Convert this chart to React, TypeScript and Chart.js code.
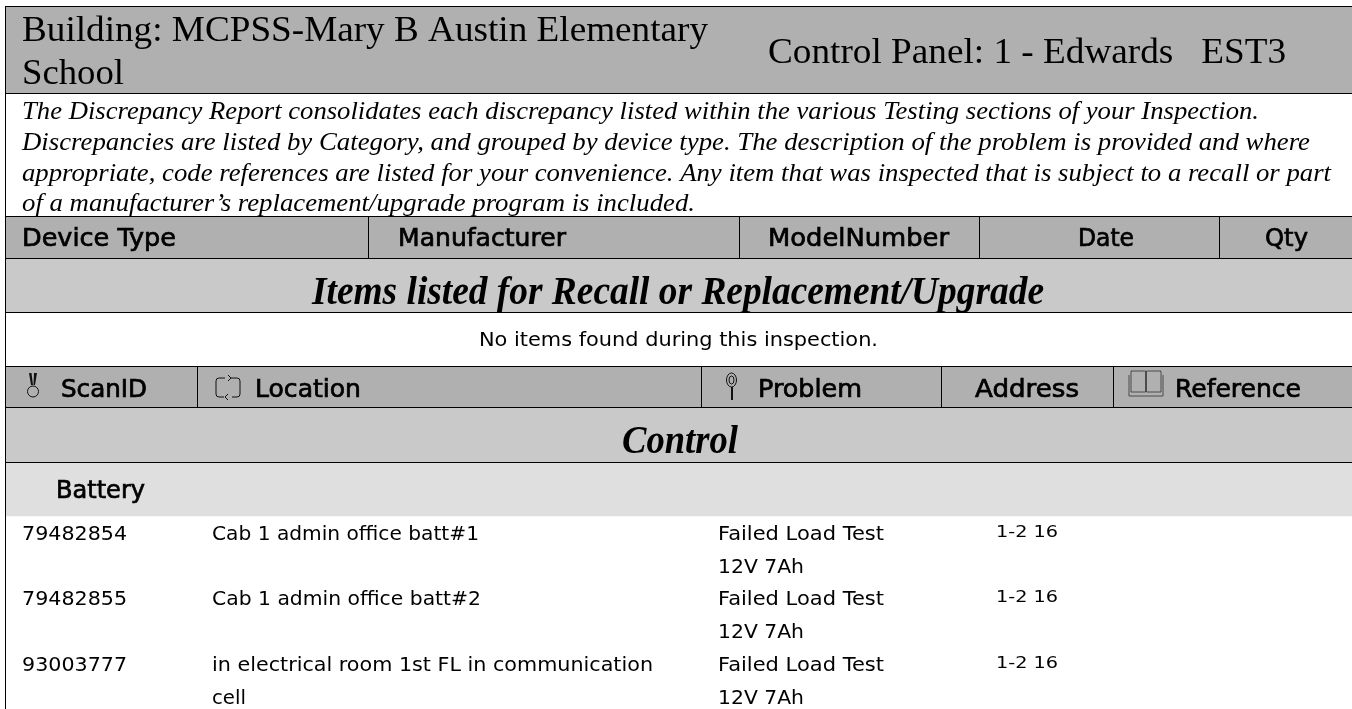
import React, { useEffect, useRef } from "react";
import { Chart, registerables } from "chart.js";

Chart.register(...registerables);

const W = 1352;
const H = 709;

// band structure of the sheet
const bandNames = ["margin", "title", "intro", "deviceHead", "recallBand", "noItems", "scanHead", "controlBand", "batteryBand", "rows"];
const bandHeights = [6, 87, 123, 42, 54, 54, 41, 55, 54, 193];
const bandColors = ["#ffffff", "#b0b0b0", "#ffffff", "#b0b0b0", "#c9c9c9", "#ffffff", "#b0b0b0", "#c9c9c9", "#dfdfdf", "#ffffff"];
const ruledEdges = [0, 1, 2, 3, 4, 5, 6, 7];

// texts
const titleLines = ["Building: MCPSS-Mary B Austin Elementary", "School"];
const panelText = "Control Panel: 1 - Edwards   EST3";
const introLines = [
  "The Discrepancy Report consolidates each discrepancy listed within the various Testing sections of your Inspection.",
  "Discrepancies are listed by Category, and grouped by device type. The description of the problem is provided and where",
  "appropriate, code references are listed for your convenience. Any item that was inspected that is subject to a recall or part",
  "of a manufacturer\u2019s replacement/upgrade program is included.",
];
const deviceColumns = ["Device Type", "Manufacturer", "ModelNumber", "Date", "Qty"];
const recallHeading = "Items listed for Recall or Replacement/Upgrade";
const noItemsText = "No items found during this inspection.";
const scanColumns = ["ScanID", "Location", "Problem", "Address", "Reference"];
const controlHeading = "Control";
const groupHeading = "Battery";
const scanIds = ["79482854", "79482855", "93003777"];
const locations = [["Cab 1 admin office batt#1"], ["Cab 1 admin office batt#2"], ["in electrical room 1st FL in communication", "cell"]];
const problems = [["Failed Load Test", "12V 7Ah"], ["Failed Load Test", "12V 7Ah"], ["Failed Load Test", "12V 7Ah"]];
const addresses = ["1-2 16", "1-2 16", "1-2 16"];

// layout, in sheet units (kept apart from the content)
const SERIF = '"Liberation Serif"';
const SANS = '"DejaVu Sans"';
const deviceDividers = [368, 739, 979, 1219];
const scanDividers = [197, 701, 941, 1113];
const deviceX: [number, number][] = [[22, 176], [398, 566], [768, 949], [1078, 1134], [1265, 1308]];
const scanX: [number, number][] = [[61, 147], [255, 361], [758, 862], [975, 1079], [1175, 1301]];
const rowBase = [540, 605, 671];
const lineStep = 32.5;

function App() {
  const ref = useRef<HTMLCanvasElement>(null);
  useEffect(() => {
    document.body.style.margin = "0";
    document.body.style.background = "#fff";
    const edges: number[] = [];
    bandHeights.reduce((s, h) => {
      edges.push(s + h);
      return s + h;
    }, 0);

    const sheet = {
      id: "sheet",
      afterDatasetsDraw(chart: any) {
        const { ctx } = chart;
        const px = (v: number) => chart.scales.xs.getPixelForValue(v);
        const py = (v: number) => chart.scales.y.getPixelForValue(v);
        const text = (s: string, font: string, x0: number, x1: number, base: number, weight = 0) => {
          ctx.font = font;
          ctx.textBaseline = "alphabetic";
          ctx.textAlign = "left";
          ctx.fillStyle = "#000";
          const m = ctx.measureText(s).width;
          const target = px(x1) - px(x0);
          ctx.save();
          ctx.translate(px(x0), py(base));
          ctx.scale(target / m, 1);
          ctx.fillText(s, 0, 0);
          if (weight) {
            ctx.strokeStyle = "#000";
            ctx.lineWidth = weight;
            ctx.strokeText(s, 0, 0);
          }
          ctx.restore();
        };
        const hLine = (y: number) => {
          ctx.fillStyle = "#000";
          ctx.fillRect(px(5), Math.round(py(y)), W, 1);
        };
        const vLine = (x: number, y0: number, y1: number) => {
          ctx.fillStyle = "#000";
          ctx.fillRect(Math.round(px(x)), py(y0), 1, py(y1) - py(y0));
        };
        ruledEdges.forEach((i) => hLine(edges[i]));
        vLine(5, edges[0], H);
        deviceDividers.forEach((x) => vLine(x, edges[2], edges[3]));
        scanDividers.forEach((x) => vLine(x, edges[5], edges[6]));

        text(titleLines[0], `35px ${SERIF}`, 22, 708, 41);
        text(titleLines[1], `35px ${SERIF}`, 22, 124, 84);
        text(panelText, `35px ${SERIF}`, 768, 1286, 63);
        const introEnds = [1259, 1310, 1331, 695];
        const introBase = [119, 150, 181, 211];
        introLines.forEach((s, i) => text(s, `italic 25px ${SERIF}`, 22, introEnds[i], introBase[i]));

        deviceColumns.forEach((s, i) => text(s, `24px ${SANS}`, deviceX[i][0], deviceX[i][1], 246, 0.7));
        text(recallHeading, `italic bold 39px ${SERIF}`, 312, 1044, 304);
        text(noItemsText, `20px ${SANS}`, 479, 878, 346);
        scanColumns.forEach((s, i) => text(s, `24px ${SANS}`, scanX[i][0], scanX[i][1], 397, 0.7));
        text(controlHeading, `italic bold 39px ${SERIF}`, 622, 738, 453);
        text(groupHeading, `24px ${SANS}`, 56, 145, 498, 0.7);

        const locEnds = [[479], [481], [653, 246]];
        scanIds.forEach((s, r) => {
          text(s, `20px ${SANS}`, 22, 127, rowBase[r]);
          locations[r].forEach((l, j) => text(l, `20px ${SANS}`, 212, locEnds[r][j], rowBase[r] + j * lineStep));
          problems[r].forEach((l, j) => text(l, `20px ${SANS}`, 718, j === 0 ? 884 : 804, rowBase[r] + j * lineStep));
          text(addresses[r], `16px ${SANS}`, 996, 1058, rowBase[r] - 3);
        });

        // header glyphs
        ctx.save();
        ctx.strokeStyle = "#111";
        ctx.fillStyle = "#111";
        ctx.lineWidth = 1;
        // medal
        ctx.beginPath();
        ctx.moveTo(px(29), py(373));
        ctx.lineTo(px(31.5), py(373));
        ctx.lineTo(px(33), py(385));
        ctx.lineTo(px(31), py(385));
        ctx.closePath();
        ctx.moveTo(px(34), py(373));
        ctx.lineTo(px(37), py(373));
        ctx.lineTo(px(35), py(385));
        ctx.lineTo(px(33.5), py(385));
        ctx.closePath();
        ctx.fill();
        ctx.beginPath();
        ctx.arc(px(33), py(391.5), 5.5, 0, Math.PI * 2);
        ctx.stroke();
        // loop
        ctx.beginPath();
        ctx.moveTo(px(225), py(378));
        ctx.lineTo(px(219), py(378));
        ctx.quadraticCurveTo(px(216), py(378), px(216), py(381));
        ctx.lineTo(px(216), py(394));
        ctx.quadraticCurveTo(px(216), py(397), px(219), py(397));
        ctx.lineTo(px(224), py(397));
        ctx.moveTo(px(232), py(397));
        ctx.lineTo(px(237), py(397));
        ctx.quadraticCurveTo(px(240), py(397), px(240), py(394));
        ctx.lineTo(px(240), py(381));
        ctx.quadraticCurveTo(px(240), py(378), px(237), py(378));
        ctx.lineTo(px(231), py(378));
        ctx.moveTo(px(228), py(375));
        ctx.lineTo(px(231), py(378));
        ctx.lineTo(px(228), py(381));
        ctx.moveTo(px(228), py(394));
        ctx.lineTo(px(225), py(397));
        ctx.lineTo(px(228), py(400));
        ctx.stroke();
        // magnifier
        ctx.beginPath();
        ctx.ellipse(px(731.5), py(380), 5, 7, 0, 0, Math.PI * 2);
        ctx.stroke();
        ctx.beginPath();
        ctx.ellipse(px(731.5), py(380), 2.5, 4, 0, 0, Math.PI * 2);
        ctx.stroke();
        ctx.fillRect(px(731), py(387), 2, 13);
        // book
        ctx.lineWidth = 0.8;
        ctx.strokeStyle = "#333";
        ctx.beginPath();
        ctx.rect(px(1131), py(371), 14.5, 21);
        ctx.rect(px(1146.5), py(371), 14.5, 21);
        ctx.moveTo(px(1129), py(375));
        ctx.lineTo(px(1129), py(396));
        ctx.lineTo(px(1163), py(396));
        ctx.lineTo(px(1163), py(375));
        ctx.stroke();
        ctx.restore();
      },
    };

    const chart = new Chart(ref.current as HTMLCanvasElement, {
      type: "bar",
      data: {
        labels: ["sheet"],
        datasets: bandNames.map((name, i) => ({
          label: name,
          data: [bandHeights[i]],
          backgroundColor: bandColors[i],
          borderWidth: 0,
          barPercentage: 1,
          categoryPercentage: 1,
          stack: "bands",
        })),
      },
      options: {
        animation: false,
        responsive: false,
        layout: { padding: { left: 5 } },
        plugins: { legend: { display: false }, tooltip: { enabled: false } },
        scales: {
          x: { display: false, stacked: true },
          xs: { type: "linear", axis: "x", position: "bottom", offset: false, display: false, min: 5, max: W },
          y: { display: false, stacked: true, reverse: true, min: 0, max: H },
        },
      },
      plugins: [sheet],
    } as any);
    return () => chart.destroy();
  }, []);
  return <canvas ref={ref} width={W} height={H} style={{ display: "block", width: W, height: H }} />;
}

export default App;
